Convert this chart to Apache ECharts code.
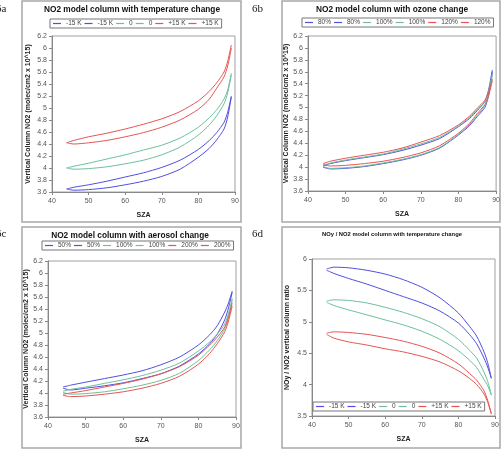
<!DOCTYPE html>
<html>
<head>
<meta charset="utf-8">
<script src="https://cdn.jsdelivr.net/npm/echarts@6/dist/echarts.min.js"></script>
<style>
  html, body { margin: 0; padding: 0; background: #fff; }
  #chart { width: 503px; height: 453px; }
</style>
</head>
<body>
<div id="chart"></div>
<script>
  // solar zenith angle samples (shared by all curves)
  const sza = [44, 46, 50, 55, 60, 65, 70, 75, 80, 83, 85, 87, 88, 89];

  // 6a - NO2 column, temperature change
  const tMinus15A = [3.65, 3.68, 3.72, 3.78, 3.85, 3.92, 4.01, 4.13, 4.31, 4.46, 4.59, 4.76, 4.93, 5.2];
  const tMinus15B = [3.65, 3.63, 3.64, 3.67, 3.72, 3.78, 3.86, 3.98, 4.18, 4.33, 4.47, 4.65, 4.85, 5.18];
  const tZeroA = [4.0, 4.03, 4.08, 4.15, 4.22, 4.3, 4.38, 4.5, 4.68, 4.84, 4.97, 5.15, 5.3, 5.58];
  const tZeroB = [4.0, 3.98, 3.99, 4.02, 4.07, 4.13, 4.22, 4.35, 4.55, 4.72, 4.87, 5.07, 5.25, 5.55];
  const tPlus15A = [4.42, 4.46, 4.52, 4.58, 4.65, 4.73, 4.82, 4.94, 5.12, 5.28, 5.42, 5.6, 5.78, 6.05];
  const tPlus15B = [4.42, 4.4, 4.42, 4.46, 4.52, 4.59, 4.68, 4.8, 4.98, 5.15, 5.33, 5.52, 5.7, 6.0];

  // 6b - NO2 column, ozone change
  const o80A = [4.02, 4.06, 4.11, 4.16, 4.21, 4.28, 4.37, 4.48, 4.68, 4.82, 4.95, 5.1, 5.3, 5.63];
  const o80B = [4.0, 3.97, 3.98, 4.01, 4.06, 4.12, 4.2, 4.32, 4.54, 4.7, 4.85, 5.0, 5.2, 5.6];
  const o100A = [4.03, 4.07, 4.12, 4.17, 4.22, 4.3, 4.39, 4.5, 4.69, 4.84, 4.97, 5.1, 5.27, 5.56];
  const o100B = [4.01, 3.98, 3.99, 4.02, 4.07, 4.13, 4.21, 4.33, 4.55, 4.72, 4.87, 5.03, 5.2, 5.55];
  const o120A = [4.06, 4.1, 4.15, 4.2, 4.25, 4.32, 4.42, 4.53, 4.71, 4.86, 4.99, 5.12, 5.26, 5.48];
  const o120B = [4.04, 4.02, 4.03, 4.06, 4.1, 4.16, 4.24, 4.36, 4.57, 4.74, 4.9, 5.05, 5.2, 5.45];

  // 6c - NO2 column, aerosol change
  const a50A = [4.1, 4.13, 4.18, 4.24, 4.3, 4.37, 4.47, 4.6, 4.8, 4.97, 5.12, 5.35, 5.5, 5.7];
  const a50B = [4.08, 4.05, 4.08, 4.12, 4.17, 4.24, 4.32, 4.45, 4.65, 4.82, 4.98, 5.22, 5.42, 5.68];
  const a100A = [4.03, 4.06, 4.1, 4.16, 4.22, 4.29, 4.38, 4.5, 4.7, 4.85, 4.98, 5.15, 5.33, 5.58];
  const a100B = [4.01, 3.98, 3.99, 4.02, 4.07, 4.13, 4.21, 4.33, 4.54, 4.72, 4.87, 5.07, 5.25, 5.55];
  const a200A = [3.98, 4.0, 4.04, 4.1, 4.16, 4.23, 4.32, 4.44, 4.63, 4.8, 4.93, 5.1, 5.27, 5.5];
  const a200B = [3.96, 3.94, 3.95, 3.98, 4.02, 4.08, 4.16, 4.28, 4.48, 4.66, 4.82, 5.02, 5.2, 5.45];

  // 6d - NOy/NO2 ratio, temperature change
  const rMinus15A = [5.84, 5.87, 5.86, 5.82, 5.76, 5.67, 5.55, 5.38, 5.14, 4.93, 4.77, 4.52, 4.35, 4.1];
  const rMinus15B = [5.82, 5.77, 5.69, 5.6, 5.5, 5.4, 5.3, 5.17, 4.98, 4.8, 4.65, 4.42, 4.28, 4.1];
  const rZeroA = [5.33, 5.35, 5.34, 5.3, 5.23, 5.15, 5.05, 4.92, 4.72, 4.55, 4.42, 4.2, 4.05, 3.84];
  const rZeroB = [5.31, 5.26, 5.19, 5.11, 5.03, 4.95, 4.85, 4.72, 4.54, 4.39, 4.27, 4.08, 3.98, 3.83];
  const rPlus15A = [4.82, 4.84, 4.83, 4.8, 4.75, 4.69, 4.61, 4.5, 4.33, 4.18, 4.07, 3.9, 3.75, 3.54];
  const rPlus15B = [4.8, 4.74, 4.68, 4.63, 4.57, 4.52, 4.45, 4.36, 4.22, 4.1, 4.0, 3.85, 3.72, 3.53];

  const legendTemp = ['-15 K', '-15 K', '0', '0', '+15 K', '+15 K'];
  const legendOzone = ['80%', '80%', '100%', '100%', '120%', '120%'];
  const legendAerosol = ['50%', '50%', '100%', '100%', '200%', '200%'];

  const lineColors = ['#4f4fe0', '#6cc09c', '#e65454'];
  const font = 'Liberation Sans, Arial, sans-serif';

  const panels = [
    {
      key: 'a', tag: '6a', tagX: -4, tagY: 4,
      box: [22, 1, 219, 221],
      grid: { left: 52, top: 36, width: 183, height: 156 },
      title: 'NO2 model column with temperature change', titleX: 132, titleY: 6, titleSize: 8.3,
      legend: { left: 50, top: 19 }, labels: legendTemp,
      lines: [tMinus15A, tMinus15B, tZeroA, tZeroB, tPlus15A, tPlus15B],
      y: { min: 3.6, max: 6.2, interval: 0.2 }, yName: 'Vertical Column NO2 (molec/cm2 x 10^15)', yGap: 20
    },
    {
      key: 'b', tag: '6b', tagX: 252, tagY: 4,
      box: [282, 1, 218, 221],
      grid: { left: 308, top: 36, width: 189, height: 155 },
      title: 'NO2 model column with ozone change', titleX: 392, titleY: 6, titleSize: 8.3,
      legend: { left: 302, top: 18 }, labels: legendOzone,
      lines: [o80A, o80B, o100A, o100B, o120A, o120B],
      y: { min: 3.6, max: 6.2, interval: 0.2 }, yName: 'Vertical Column NO2 (molec/cm2 x 10^15)', yGap: 17
    },
    {
      key: 'c', tag: '6c', tagX: -4, tagY: 229,
      box: [22, 227, 219, 221],
      grid: { left: 48, top: 261, width: 188, height: 156 },
      title: 'NO2 model column with aerosol change', titleX: 130, titleY: 232, titleSize: 8.3,
      legend: { left: 42, top: 241 }, labels: legendAerosol,
      lines: [a50A, a50B, a100A, a100B, a200A, a200B],
      y: { min: 3.6, max: 6.2, interval: 0.2 }, yName: 'Vertical Column NO2 (molec/cm2 x 10^15)', yGap: 17
    },
    {
      key: 'd', tag: '6d', tagX: 252, tagY: 229,
      box: [282, 227, 218, 221],
      grid: { left: 312, top: 259, width: 183, height: 157 },
      title: 'NOy / NO2 model column with temperature change', titleX: 392, titleY: 231, titleSize: 5.8,
      legend: { left: 313, top: 402 }, labels: legendTemp,
      lines: [rMinus15A, rMinus15B, rZeroA, rZeroB, rPlus15A, rPlus15B],
      y: { min: 3.5, max: 6, interval: 0.5 }, yName: 'NOy / NO2 vertical column ratio', yGap: 21
    }
  ];

  const labelOf = {};
  const option = {
    animation: false,
    backgroundColor: '#fff',
    textStyle: { fontFamily: font },
    title: [], grid: [], xAxis: [], yAxis: [], legend: [], series: [], graphic: []
  };

  panels.forEach((p, pi) => {
    option.graphic.push({
      type: 'rect', shape: { x: p.box[0], y: p.box[1], width: p.box[2], height: p.box[3] },
      style: { fill: null, stroke: '#a8a8a8', lineWidth: 1.5 }, z: 0
    });
    option.graphic.push({
      type: 'text', left: p.tagX, top: p.tagY,
      style: { text: p.tag, font: '11px "Liberation Serif", serif', fill: '#222' }
    });

    option.title.push({
      text: p.title, left: p.titleX, top: p.titleY, textAlign: 'center', padding: 0,
      textStyle: { fontFamily: font, fontSize: p.titleSize, fontWeight: 'bold', color: '#111' }
    });

    option.grid.push(Object.assign({ show: true, borderColor: '#a0a0a0', borderWidth: 1 }, p.grid));

    option.xAxis.push({
      gridIndex: pi, type: 'value', min: 40, max: 90, interval: 10,
      name: 'SZA', nameLocation: 'middle', nameGap: 20,
      nameTextStyle: { fontFamily: font, fontSize: 7, fontWeight: 'bold', color: '#222' },
      axisLine: { show: true, lineStyle: { color: '#888' } },
      axisTick: { show: true, length: 3, lineStyle: { color: '#888' } },
      axisLabel: { fontFamily: font, fontSize: 7, color: '#555', margin: 6 },
      splitLine: { show: false }
    });

    option.yAxis.push({
      gridIndex: pi, type: 'value', min: p.y.min, max: p.y.max, interval: p.y.interval,
      name: p.yName, nameLocation: 'middle', nameGap: p.yGap,
      nameTextStyle: { fontFamily: font, fontSize: 7, fontWeight: 'bold', color: '#222' },
      axisLine: { show: true, lineStyle: { color: '#888' } },
      axisTick: { show: true, length: 3, lineStyle: { color: '#888' } },
      axisLabel: { fontFamily: font, fontSize: 7, color: '#555', margin: 5 },
      splitLine: { show: false }
    });

    const names = [];
    p.lines.forEach((vals, i) => {
      const name = p.key + i;
      names.push(name);
      labelOf[name] = p.labels[i];
      option.series.push({
        name: name, type: 'line', xAxisIndex: pi, yAxisIndex: pi,
        data: sza.map((x, j) => [x, vals[j]]),
        smooth: 0.25, showSymbol: false, symbol: 'none',
        color: lineColors[Math.floor(i / 2)],
        lineStyle: { width: 1 }
      });
    });

    option.legend.push({
      data: names, left: p.legend.left, top: p.legend.top, orient: 'horizontal',
      icon: 'rect', itemWidth: 8, itemHeight: 1.2, itemGap: 3,
      padding: [1, 3], borderColor: '#777', borderWidth: 1, backgroundColor: '#fff',
      selectedMode: false,
      formatter: name => labelOf[name],
      textStyle: { fontFamily: font, fontSize: 6.5, color: '#444' }
    });
  });

  const myChart = echarts.init(document.getElementById('chart'));
  myChart.setOption(option);
  window.addEventListener('resize', myChart.resize);
</script>
</body>
</html>
